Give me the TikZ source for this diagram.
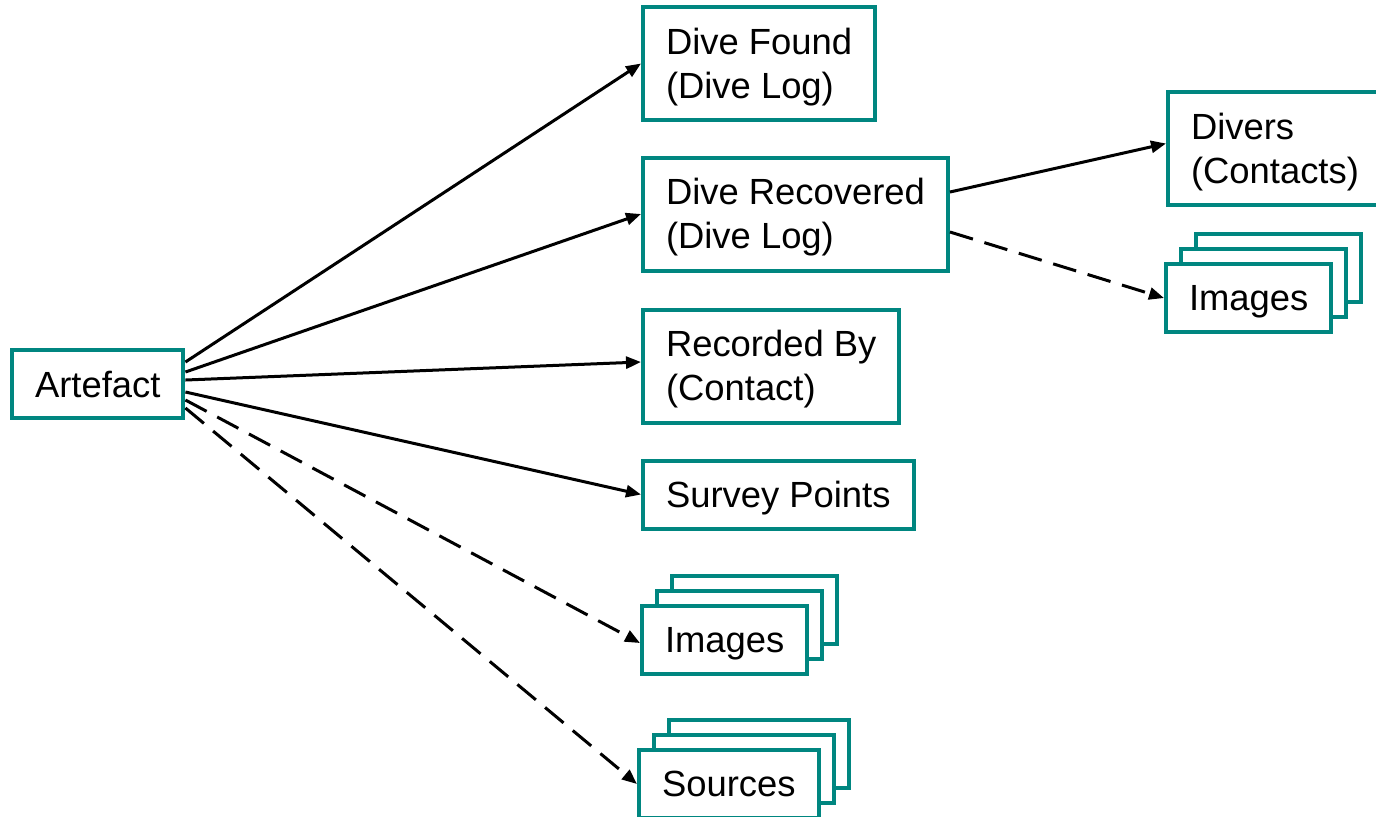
\documentclass[tikz,border=0pt]{standalone}
\usepackage{fontspec}
\setmainfont{Liberation Sans}
\usetikzlibrary{arrows.meta,shadows}
\definecolor{boxteal}{RGB}{0,134,128}
\begin{document}
\begin{tikzpicture}[x=0.5pt,y=-0.5pt,
    box/.style={draw=boxteal, line width=2pt, fill=white, anchor=west,
      align=left, inner xsep=11.5pt, inner ysep=0pt,
      font=\fontsize{18.2}{22}\selectfont},
    onebox/.style={box, minimum height=34pt, text depth=0pt},
    twobox/.style={box, minimum height=56.5pt, text depth=0.5pt},
    stackbox/.style={onebox, double copy shadow={shadow xshift=7.5pt,
      shadow yshift=7.5pt, draw=boxteal, fill=white, line width=2pt}},
    link/.style={line width=1.5pt, -{Triangle[length=7.5pt,width=6pt]}},
    maybe/.style={link, dash pattern=on 12pt off 6pt}]
    \useasboundingbox (0,0) rectangle (1376,816);

    \node[onebox] (art) at (10,384) {Artefact};

    \node[twobox] (found) at (641,63.5) {Dive Found\\(Dive Log)};
    \node[twobox] (recov) at (641,214) {Dive Recovered\\(Dive Log)};
    \node[twobox] (recby) at (641,366) {Recorded By\\(Contact)};
    \node[onebox] (survey) at (641,494.5) {Survey Points};
    \node[stackbox] (img) at (640,640) {Images};
    \node[stackbox] (src) at (637,784) {Sources};

    \node[twobox] (divers) at (1166,148.5) {Divers\\(Contacts)};
    \node[stackbox] (img2) at (1164,298) {Images};

    \draw[link] ([yshift=11pt]art.east) -- (found.west);
    \draw[link] ([yshift=6pt]art.east) -- (recov.west);
    \draw[link] ([yshift=2pt]art.east) -- ([yshift=2pt]recby.west);
    \draw[link] ([yshift=-4pt]art.east) -- (survey.west);
    \draw[maybe] ([yshift=-8pt]art.east) -- ([yshift=-1.5pt]img.west);
    \draw[maybe] ([yshift=-12pt]art.east) -- (src.west);

    \draw[link] ([yshift=11pt]recov.east) -- ([yshift=2.5pt]divers.west);
    \draw[maybe] ([yshift=-9pt]recov.east) -- (img2.west);
\end{tikzpicture}
\end{document}
